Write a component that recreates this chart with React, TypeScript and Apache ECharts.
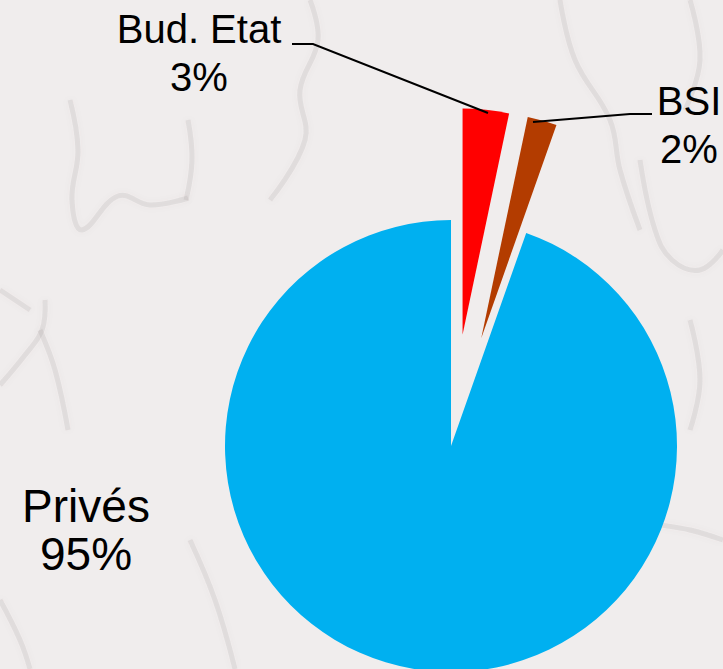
import React, { useEffect, useRef } from "react";
import * as echarts from "echarts";

const categories = ["Bud. Etat", "BSI", "Privés"];
const values = [3.3, 2.1, 94.6];
const colors = ["#ff0000", "#b33c00", "#00b0f0"];
const exploded = [true, true, false];

// label placement (pixels) per category
const labelX = [199, 689, 86];
const labelY = [53, 125, 530];
const labelFont = [40, 40, 46];
const leaderLines: (number[][] | null)[] = [
  [[488, 113], [313, 44], [292, 44]],
  [[533, 122], [630, 114], [652, 114]],
  null,
];

// faint marble veins for the background texture
const veins: number[][][] = [
  [[70, 100], [78, 150], [72, 200], [82, 230], [118, 196], [150, 205], [188, 198]],
  [[188, 120], [192, 160], [186, 200]],
  [[0, 385], [25, 355], [42, 330], [45, 300]],
  [[40, 330], [55, 370], [68, 430]],
  [[0, 290], [30, 310]],
  [[310, 0], [318, 40], [300, 90], [305, 140], [270, 200]],
  [[560, 0], [575, 60], [610, 120], [620, 170], [640, 230]],
  [[640, 160], [655, 230], [672, 260], [700, 270], [723, 250]],
  [[690, 0], [700, 60], [685, 110]],
  [[600, 500], [640, 520], [690, 530], [723, 540]],
  [[0, 600], [20, 640], [30, 669]],
  [[190, 540], [215, 600], [235, 669]],
  [[690, 320], [700, 380], [690, 430]],
];

export default function App() {
  const ref = useRef<HTMLDivElement>(null);
  useEffect(() => {
    document.body.style.margin = "0";
    const chart = echarts.init(ref.current!, undefined, { renderer: "svg" });
    const total = values.reduce((a, b) => a + b, 0);
    const graphics: any[] = [];
    veins.forEach((pts) => {
      graphics.push({
        type: "polyline",
        z: -10,
        silent: true,
        shape: { points: pts, smooth: 0.4 },
        style: {
          stroke: "rgba(130,115,115,0.13)",
          lineWidth: 5,
          fill: null,
          shadowBlur: 6,
          shadowColor: "rgba(130,115,115,0.25)",
        },
      });
    });
    categories.forEach((name, i) => {
      const pct = Math.round((values[i] / total) * 100);
      graphics.push({
        type: "text",
        z: 10,
        x: labelX[i],
        y: labelY[i],
        style: {
          text: `${name}\n${pct}%`,
          fontFamily: "Liberation Sans, Arial, sans-serif",
          fontSize: labelFont[i],
          lineHeight: 48,
          fill: "#000",
          align: "center",
          verticalAlign: "middle",
        },
      });
      const line = leaderLines[i];
      if (line) {
        graphics.push({
          type: "polyline",
          z: 10,
          shape: { points: line },
          style: { stroke: "#000", lineWidth: 2, fill: null },
        });
      }
    });
    chart.setOption({
      animation: false,
      backgroundColor: "#f0eded",
      graphic: graphics,
      series: [
        {
          type: "pie",
          z: 2,
          center: [451, 446],
          radius: 226,
          startAngle: 90,
          clockwise: true,
          selectedMode: "multiple",
          selectedOffset: 112,
          emphasis: { disabled: true },
          label: { show: false },
          labelLine: { show: false },
          data: categories.map((name, i) => ({
            name,
            value: values[i],
            selected: exploded[i],
            itemStyle: { color: colors[i] },
          })),
        },
      ],
    });
    return () => chart.dispose();
  }, []);
  return <div ref={ref} style={{ width: 723, height: 669 }} />;
}
